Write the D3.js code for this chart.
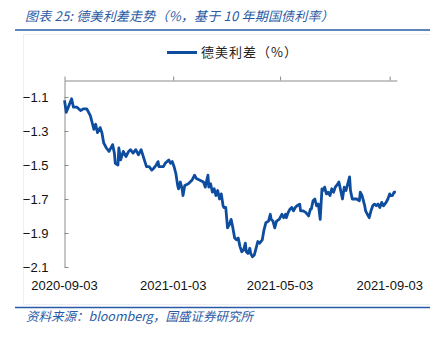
<!DOCTYPE html>
<html><head><meta charset="utf-8">
<script src="https://cdn.jsdelivr.net/npm/d3@7"></script>
<style>
body{margin:0;background:#fff;}
svg{display:block;}
</style></head>
<body>
<svg id="c" width="430" height="338"></svg>
<script>
const titleText = "图表 25:  德美利差走势（%，基于 10 年期国债利率）";
const legendLabel = "德美利差（%）";
const sourceText = "资料来源：bloomberg，国盛证券研究所";
const xTickLabels = ["2020-09-03","2021-01-03","2021-05-03","2021-09-03"];
const yTickValues = [-1.1,-1.3,-1.5,-1.7,-1.9,-2.1];
const dates = [
"2020-09-03","2020-09-05","2020-09-08","2020-09-11","2020-09-13","2020-09-17","2020-09-21","2020-09-24","2020-09-28",
"2020-10-02","2020-10-04","2020-10-06","2020-10-08","2020-10-10","2020-10-13","2020-10-15","2020-10-17","2020-10-20",
"2020-10-23","2020-10-27","2020-10-29","2020-10-30","2020-11-02","2020-11-03","2020-11-05","2020-11-08","2020-11-11",
"2020-11-14","2020-11-16","2020-11-19","2020-11-22","2020-11-25","2020-11-28","2020-12-01","2020-12-04","2020-12-07",
"2020-12-10","2020-12-12","2020-12-15","2020-12-17","2020-12-18","2020-12-23","2020-12-25","2020-12-29","2020-12-31",
"2021-01-02","2021-01-04","2021-01-06","2021-01-08","2021-01-09","2021-01-11","2021-01-13","2021-01-14","2021-01-16",
"2021-01-20","2021-01-24","2021-01-27","2021-01-29","2021-02-02","2021-02-06","2021-02-08","2021-02-11","2021-02-12",
"2021-02-14","2021-02-16","2021-02-18","2021-02-20","2021-02-22","2021-02-24","2021-02-26","2021-02-28","2021-03-01",
"2021-03-03","2021-03-05","2021-03-07","2021-03-09","2021-03-11","2021-03-13","2021-03-15","2021-03-17","2021-03-19",
"2021-03-21","2021-03-23","2021-03-25","2021-03-26","2021-03-28","2021-03-30","2021-03-31","2021-04-02","2021-04-04",
"2021-04-06","2021-04-08","2021-04-10","2021-04-13","2021-04-15","2021-04-17","2021-04-20","2021-04-22","2021-04-23",
"2021-04-25","2021-04-27","2021-04-29","2021-05-02","2021-05-05","2021-05-07","2021-05-09","2021-05-10","2021-05-12",
"2021-05-14","2021-05-16","2021-05-18","2021-05-20","2021-05-22","2021-05-25","2021-05-26","2021-05-29","2021-06-01",
"2021-06-04","2021-06-06","2021-06-07","2021-06-09","2021-06-11","2021-06-13","2021-06-15","2021-06-17","2021-06-19",
"2021-06-20","2021-06-22","2021-06-24","2021-06-26","2021-06-28","2021-06-30","2021-07-02","2021-07-04","2021-07-07",
"2021-07-08","2021-07-10","2021-07-12","2021-07-14","2021-07-16","2021-07-18","2021-07-20","2021-07-21","2021-07-23",
"2021-07-25","2021-07-28","2021-07-31","2021-08-01","2021-08-03","2021-08-06","2021-08-07","2021-08-09","2021-08-11",
"2021-08-13","2021-08-15","2021-08-17","2021-08-19","2021-08-21","2021-08-23","2021-08-25","2021-08-27","2021-08-30",
"2021-09-01","2021-09-03","2021-09-04","2021-09-06","2021-09-08","2021-09-10"
];
const spread = [
-1.12,-1.19,-1.15,-1.11,-1.16,-1.16,-1.18,-1.17,-1.17,
-1.21,-1.25,-1.29,-1.26,-1.31,-1.28,-1.31,-1.37,-1.40,
-1.42,-1.38,-1.43,-1.49,-1.50,-1.40,-1.47,-1.42,-1.45,
-1.42,-1.41,-1.43,-1.41,-1.44,-1.41,-1.46,-1.51,-1.51,
-1.53,-1.52,-1.50,-1.48,-1.51,-1.51,-1.49,-1.47,-1.49,
-1.48,-1.51,-1.55,-1.62,-1.64,-1.60,-1.64,-1.68,-1.62,
-1.61,-1.59,-1.56,-1.58,-1.59,-1.60,-1.63,-1.56,-1.63,
-1.61,-1.66,-1.64,-1.68,-1.65,-1.70,-1.67,-1.74,-1.75,
-1.75,-1.87,-1.85,-1.82,-1.87,-1.93,-1.94,-1.93,-1.98,
-2.01,-2.00,-1.96,-2.01,-2.02,-1.99,-2.02,-2.04,-2.03,
-1.99,-1.95,-1.96,-1.94,-1.88,-1.84,-1.83,-1.79,-1.82,
-1.83,-1.87,-1.83,-1.82,-1.79,-1.81,-1.79,-1.81,-1.78,
-1.76,-1.75,-1.77,-1.75,-1.74,-1.73,-1.77,-1.77,-1.78,
-1.80,-1.76,-1.76,-1.71,-1.70,-1.74,-1.73,-1.82,-1.64,
-1.65,-1.63,-1.67,-1.66,-1.68,-1.64,-1.66,-1.63,-1.61,
-1.60,-1.65,-1.70,-1.63,-1.65,-1.61,-1.57,-1.65,-1.70,
-1.70,-1.70,-1.71,-1.66,-1.68,-1.74,-1.77,-1.79,-1.81,
-1.77,-1.74,-1.73,-1.74,-1.73,-1.75,-1.72,-1.74,-1.72,
-1.70,-1.67,-1.68,-1.68,-1.66,-1.66
];

const parse = d3.timeParse("%Y-%m-%d");
const data = dates.map((d,i)=>({date:parse(d), v:spread[i]}));

const svg = d3.select("#c");
const blue = "#0d4c9e";
const cjk = "'Noto Sans CJK SC','Liberation Sans',sans-serif";

// faint frame
svg.append("rect").attr("x",23.5).attr("y",34.5).attr("width",440).attr("height",270)
  .attr("fill","none").attr("stroke","#efefef");

// title
svg.append("text").attr("x",25).attr("y",21).attr("font-family",cjk).attr("font-size",13)
  .attr("font-style","italic").attr("letter-spacing",0.2).attr("fill","#2a5aa5").text(titleText);
svg.append("line").attr("x1",15).attr("x2",430).attr("y1",30).attr("y2",30)
  .attr("stroke","#2a5aa5").attr("stroke-width",1.5);

// legend
svg.append("line").attr("x1",167).attr("x2",197).attr("y1",52.5).attr("y2",52.5)
  .attr("stroke",blue).attr("stroke-width",3);
svg.append("text").attr("x",201).attr("y",57).attr("font-family",cjk).attr("font-size",13)
  .attr("letter-spacing",1).attr("fill","#222").text(legendLabel);

// scales
const x = d3.scaleTime().domain([parse("2020-09-03"), parse("2021-09-11")]).range([64.5, 396.8]);
const y = d3.scaleLinear().domain([-2.1, -1.0]).range([267, 80]);
const xTicks = xTickLabels.map(parse);

// y axis
const yAxis = d3.axisLeft(y).tickValues(yTickValues).tickSize(-4).tickSizeOuter(0).tickPadding(16)
  .tickFormat(d3.format(".1f"));
const gy = svg.append("g").attr("transform","translate(64.5,0)").call(yAxis);
gy.select(".domain").attr("stroke","#8c8c8c");
gy.selectAll(".tick line").attr("stroke","#8c8c8c");
gy.selectAll("text").attr("font-family","'Liberation Sans',sans-serif").attr("font-size",13).attr("fill","#111");

// x axis (line at top, ticks up)
const xAxis = d3.axisTop(x).tickValues(xTicks).tickSize(4).tickSizeOuter(0).tickFormat("");
const gx = svg.append("g").attr("transform","translate(0,80.5)").call(xAxis);
gx.select(".domain").attr("stroke","#8c8c8c");
gx.selectAll(".tick line").attr("stroke","#8c8c8c");

// x labels at bottom
svg.append("g").selectAll("text").data(xTicks).join("text")
  .attr("x",d=>x(d)).attr("y",289.5).attr("text-anchor","middle")
  .attr("font-family","'Liberation Sans',sans-serif").attr("font-size",13).attr("fill","#111")
  .text(d3.timeFormat("%Y-%m-%d"));

// line
svg.append("path").datum(data)
  .attr("d", d3.line().x(d=>x(d.date)).y(d=>y(d.v)))
  .attr("fill","none").attr("stroke",blue).attr("stroke-width",2.8).attr("stroke-linejoin","round");

// footer
svg.append("line").attr("x1",15).attr("x2",430).attr("y1",307.5).attr("y2",307.5)
  .attr("stroke","#2a5aa5").attr("stroke-width",1.5);
svg.append("text").attr("x",26).attr("y",321).attr("font-family",cjk).attr("font-size",12.5)
  .attr("font-style","italic").attr("fill","#2a5aa5").text(sourceText);
</script>
</body></html>
